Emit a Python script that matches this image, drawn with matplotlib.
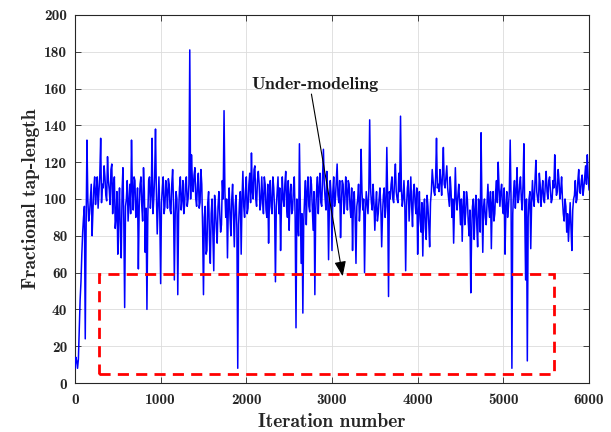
import numpy as np
import matplotlib
matplotlib.use("Agg")
import matplotlib.pyplot as plt
from matplotlib.patches import Rectangle

# ---- data ----
# tap_even: values at iterations 0, 20, 40, ..., 6000
tap_even = [
    8, 12, 13, 45, 70, 90, 24, 132, 88, 100, 80, 106, 97, 112, 104, 133, 108, 118, 102, 123, 105, 116, 92, 112, 90,
    70, 106, 68, 117, 41, 100, 88, 108, 132, 94, 110, 92, 62, 108, 96, 117, 71, 40, 110, 95, 133, 100, 138, 81, 112,
    54, 106, 92, 110, 95, 108, 92, 116, 56, 104, 48, 106, 94, 110, 97, 112, 100, 181, 124, 104, 117, 96, 114, 98, 108,
    48, 96, 72, 104, 65, 100, 61, 95, 76, 104, 82, 110, 148, 90, 68, 106, 80, 108, 74, 102, 8, 98, 70, 115, 90,
    112, 95, 114, 125, 100, 118, 96, 115, 94, 112, 92, 108, 90, 76, 110, 92, 106, 55, 104, 92, 72, 112, 96, 115, 90,
    83, 108, 94, 112, 30, 88, 130, 65, 38, 100, 86, 112, 93, 108, 83, 48, 104, 92, 114, 96, 127, 100, 115, 67, 110,
    72, 112, 100, 119, 98, 79, 110, 92, 112, 94, 108, 90, 72, 104, 65, 100, 88, 127, 94, 60, 104, 92, 143, 98, 108,
    83, 104, 92, 106, 74, 102, 90, 128, 47, 100, 112, 98, 119, 100, 114, 145, 96, 110, 61, 106, 88, 112, 85, 108, 92,
    70, 104, 82, 69, 100, 78, 96, 74, 104, 110, 102, 133, 108, 116, 102, 128, 106, 118, 101, 112, 90, 76, 117, 94, 108,
    86, 77, 104, 92, 100, 80, 49, 96, 78, 102, 74, 96, 136, 71, 100, 86, 108, 90, 73, 104, 92, 110, 120, 96, 108,
    92, 70, 104, 96, 132, 8, 104, 95, 117, 100, 112, 94, 130, 56, 12, 100, 73, 110, 96, 121, 100, 114, 96, 110, 98,
    115, 100, 112, 98, 110, 124, 102, 116, 100, 112, 92, 100, 82, 77, 98, 72, 100, 110, 100, 116, 103, 113, 106, 118, 124, 105,
]
# tap_odd: values at iterations 10, 30, 50, ..., 5990
tap_odd = [
    14, 8, 30, 55, 82, 96, 84, 100, 92, 108, 94, 112, 104, 95, 113, 98, 106, 112, 99, 110, 97, 119, 108, 84, 104,
    92, 80, 104, 88, 96, 110, 98, 92, 105, 112, 90, 106, 96, 112, 88, 104, 95, 90, 112, 102, 92, 112, 104, 96, 92,
    98, 112, 96, 104, 111, 94, 108, 98, 92, 100, 92, 112, 100, 92, 108, 96, 108, 100, 110, 113, 100, 108, 95, 116, 84,
    90, 70, 98, 78, 92, 80, 102, 84, 96, 92, 86, 100, 104, 100, 96, 90, 100, 90, 96, 84, 86, 104, 100, 96, 104,
    92, 108, 98, 104, 116, 100, 110, 108, 98, 100, 112, 94, 108, 100, 96, 112, 94, 96, 112, 106, 96, 100, 108, 96, 110,
    102, 92, 106, 90, 100, 80, 96, 92, 88, 110, 104, 96, 112, 96, 104, 94, 112, 106, 98, 112, 108, 94, 102, 98, 102,
    104, 96, 110, 102, 110, 98, 108, 98, 104, 110, 96, 106, 98, 90, 96, 108, 96, 104, 100, 92, 98, 104, 106, 94, 98,
    96, 88, 100, 96, 92, 106, 96, 100, 104, 108, 100, 110, 104, 98, 104, 106, 100, 98, 96, 110, 100, 96, 104, 98, 106,
    92, 88, 98, 94, 84, 102, 86, 98, 116, 104, 112, 106, 104, 110, 114, 108, 112, 106, 96, 104, 100, 96, 100, 102, 98,
    100, 96, 86, 104, 88, 94, 82, 100, 94, 86, 100, 82, 98, 96, 90, 98, 96, 104, 98, 88, 104, 98, 106, 104, 96,
    106, 96, 90, 104, 100, 92, 110, 104, 98, 108, 100, 108, 92, 100, 90, 104, 98, 100, 110, 104, 98, 108, 104, 100, 108,
    104, 110, 104, 100, 106, 110, 104, 110, 104, 100, 88, 96, 92, 88, 84, 94, 102, 98, 110, 104, 110, 102, 112, 108, 112,
]
iter_step = 10

# under-modeling box (iteration range, tap-length range)
box_x = [280, 5590]
box_y = [5, 59]

x_ticks = [0, 1000, 2000, 3000, 4000, 5000, 6000]
y_ticks = [0, 20, 40, 60, 80, 100, 120, 140, 160, 180, 200]

annot_text = "Under-modeling"
annot_text_xy = [2060, 162]
annot_tail_xy = [2760, 157]
annot_tip_xy = [3125, 58]

# interleave the two sample sets into one series
tap_length = np.empty(len(tap_even) + len(tap_odd))
tap_length[0::2] = tap_even
tap_length[1::2] = tap_odd
iterations = np.arange(len(tap_length)) * iter_step

FONT = "cmb10"

fig = plt.figure(figsize=(6.11, 4.32), dpi=100)
ax = fig.add_axes([0.1227, 0.1134, 0.8413, 0.852])

ax.plot(iterations, tap_length, color="#0000ff", linewidth=1.1, zorder=3)

rect = Rectangle((box_x[0], box_y[0]), box_x[1] - box_x[0], box_y[1] - box_y[0],
                 fill=False, edgecolor="#ff0000", linewidth=2.0,
                 linestyle=(0, (4, 2.6)), zorder=4)
ax.add_patch(rect)

ax.text(annot_text_xy[0], annot_text_xy[1], annot_text, fontfamily=FONT,
        fontsize=13, ha="left", va="center", color="#1a1a1a", zorder=5)
ax.annotate("", xy=annot_tip_xy, xytext=annot_tail_xy,
            arrowprops=dict(arrowstyle="-|>,head_length=0.9,head_width=0.35",
                            color="black", lw=0.8, shrinkA=0, shrinkB=0),
            zorder=5)

ax.set_xlim(0, 6000)
ax.set_ylim(0, 200)
ax.set_xticks(x_ticks)
ax.set_yticks(y_ticks)
ax.set_xticklabels([str(v) for v in x_ticks], fontfamily=FONT, fontsize=11)
ax.set_yticklabels([str(v) for v in y_ticks], fontfamily=FONT, fontsize=11)
ax.tick_params(direction="in", length=4, width=0.6, top=True, right=True,
               colors="#262626")
ax.tick_params(axis="x", pad=7.5)
ax.tick_params(axis="y", pad=5.5)
ax.grid(True, color="#dcdcdc", linewidth=0.6, zorder=0)
ax.set_axisbelow(True)
for s in ax.spines.values():
    s.set_color("#262626")
    s.set_linewidth(0.8)

ax.set_xlabel("Iteration number", fontfamily=FONT, fontsize=14, color="#262626", labelpad=4)
ax.set_ylabel("Fractional tap-length", fontfamily=FONT, fontsize=14, color="#262626", labelpad=3)

fig.savefig("out.png", dpi=100)
